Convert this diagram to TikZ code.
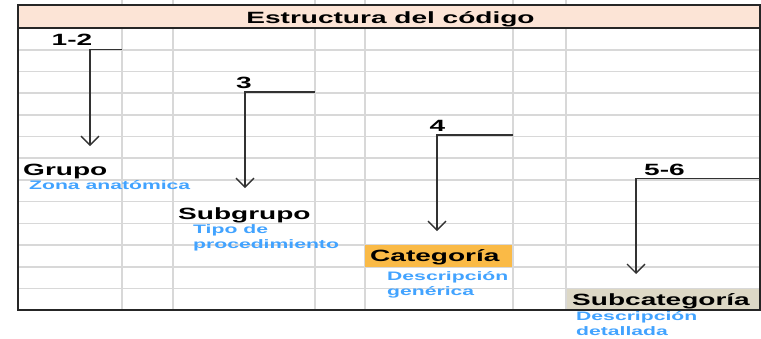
\documentclass[tikz,border=0pt]{standalone}
\usepackage{fontspec}
\setmainfont{Liberation Sans}[FakeStretch=1.72]
\usetikzlibrary{arrows.meta}
\definecolor{headfill}{RGB}{252,228,214}
\definecolor{catfill}{RGB}{250,186,70}
\definecolor{subfill}{RGB}{221,216,198}
\definecolor{gridgray}{RGB}{216,216,216}
\definecolor{descblue}{RGB}{66,163,255}
\definecolor{arrowgray}{RGB}{50,50,50}

\begin{document}
\begin{tikzpicture}[x=1pt,y=-1pt]
\tikzstyle{level}=[font=\fontsize{16.3}{18}\selectfont\bfseries,inner sep=0pt,anchor=base west]
\tikzstyle{num}=[level,anchor=base]
\tikzstyle{desc}=[font=\fontsize{12.3}{15.2}\selectfont\bfseries,text=descblue,inner sep=0pt,anchor=base west,align=left]
\tikzstyle{bracket}=[draw=arrowgray,line width=1.3pt,-{Straight Barb[length=9pt,width=18pt]}]
\tikzstyle{gridline}=[gridgray,line width=1.6pt]
\useasboundingbox (0,0) rectangle (761,338);
\foreach \gx in {122,173,315,365,513,566}
  \draw[gridline] (\gx,0) -- (\gx,310);
\foreach \k in {1,...,12}
  \draw[gridline] (18,28+21.7*\k) -- (760,28+21.7*\k);
\fill[headfill] (18,5) rectangle (760,28);
\fill[catfill] (365,245) rectangle (512,266.5);
\fill[subfill] (567,288.5) rectangle (760,310);
\draw[line width=1.8pt,black!85] (18,5) rectangle (760,310);
\draw[line width=1.8pt,black!85] (18,28) -- (760,28);

\node[num] (title) at (390.5,23) {Estructura del código};
\node[num] (n12) at (72,45) {1-2};
\node[num] (n3) at (244,88.5) {3};
\node[num] (n4) at (437.5,131) {4};
\node[num] (n56) at (664.5,175.5) {5-6};
\node[level] (grupo) at (23,175) {Grupo};
\node[desc] (zona) at (29,189.5) {Zona anatómica};
\node[level] (subgrupo) at (178,219) {Subgrupo};
\node[desc] (tipo) at (193,248.5) {Tipo de\\procedimiento};
\node[level] (categoria) at (370,261.5) {Categoría};
\node[desc] (desccat) at (387,295.5) {Descripción\\genérica};
\node[level] (subcat) at (572,305.5) {Subcategoría};
\node[desc] (descsub) at (576,335.5) {Descripción\\detallada};

\coordinate (s12) at (122,49.7);
\coordinate (t12) at (90,146);
\coordinate (s3) at (315,92);
\coordinate (t3) at (245,188);
\coordinate (s4) at (513,135);
\coordinate (t4) at (437,231);
\coordinate (s56) at (760,178.5);
\coordinate (t56) at (636,274);

\draw[bracket] (s12) -| (t12);
\draw[bracket] (s3) -| (t3);
\draw[bracket] (s4) -| (t4);
\draw[bracket] (s56) -| (t56);
\end{tikzpicture}
\end{document}
